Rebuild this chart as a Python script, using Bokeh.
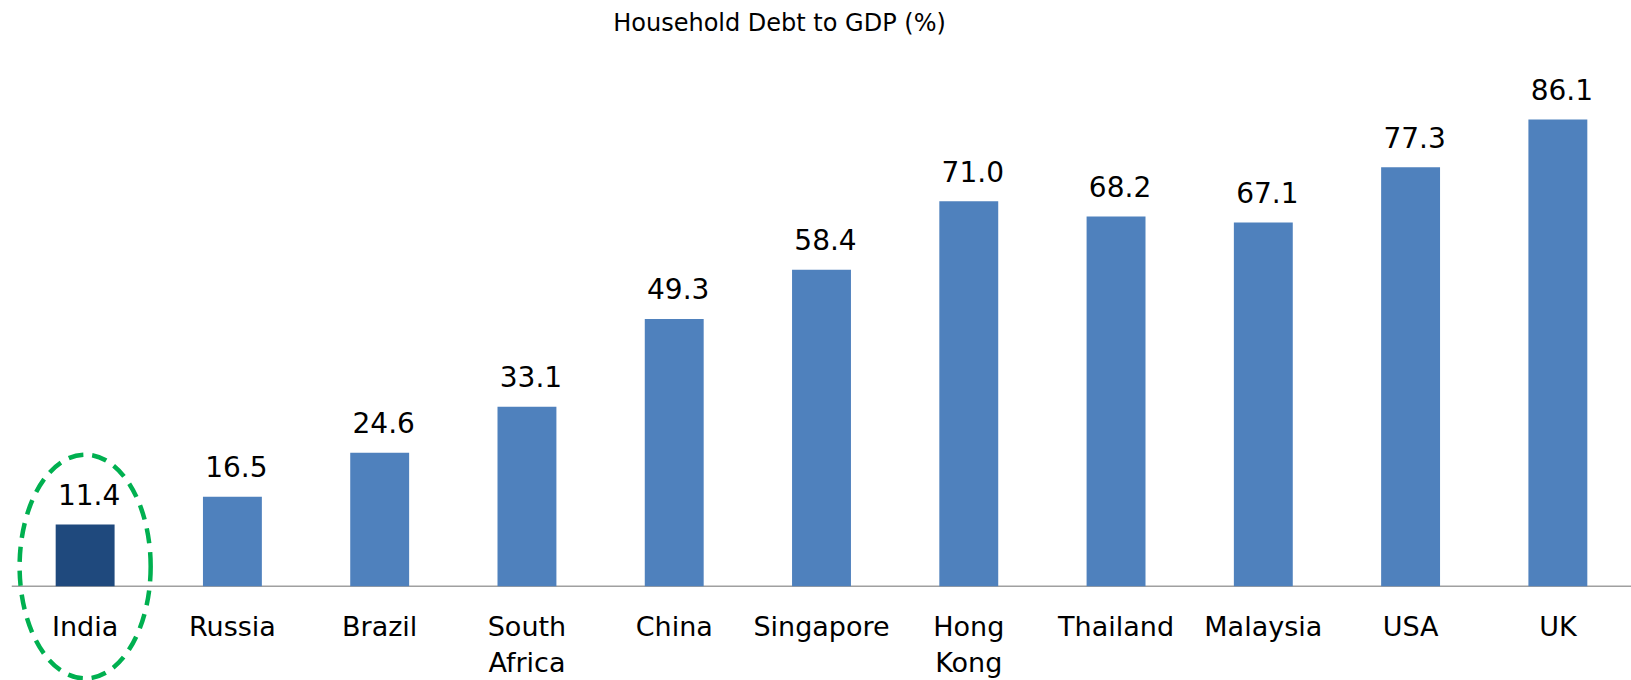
from bokeh.plotting import figure
from bokeh.models import Span, Label, ColumnDataSource, FactorRange, Range1d
from bokeh.embed import file_html
from bokeh.resources import INLINE
from bokeh.core.properties import value

# ---- data ----
countries = ["India", "Russia", "Brazil", "South Africa", "China", "Singapore",
             "Hong Kong", "Thailand", "Malaysia", "USA", "UK"]
tick_labels = ["India", "Russia", "Brazil", "South\nAfrica", "China", "Singapore",
               "Hong\nKong", "Thailand", "Malaysia", "USA", "UK"]
debt_to_gdp = [11.4, 16.5, 24.6, 33.1, 49.3, 58.4, 71.0, 68.2, 67.1, 77.3, 86.1]
highlight = "India"
title_text = "Household Debt to GDP (%)"

# ---- styles ----
BAR_COLOR = "#4F81BD"
HIGHLIGHT_COLOR = "#1F497D"
FONT = "DejaVu Sans"

value_labels = [f"{v:.1f}" for v in debt_to_gdp]
colors = [HIGHLIGHT_COLOR if c == highlight else BAR_COLOR for c in countries]

src = ColumnDataSource(dict(country=countries, debt=debt_to_gdp, color=colors,
                            vlabel=value_labels, tlabel=tick_labels,
                            zero=[0] * len(countries)))

p = figure(x_range=FactorRange(factors=countries, range_padding=0),
           y_range=Range1d(-17.4, 108.06),
           width=1631, height=680,
           output_backend="svg", toolbar_location=None,
           x_axis_location=None, y_axis_location=None,
           min_border_left=11, min_border_right=0,
           min_border_top=0, min_border_bottom=0)
p.grid.visible = False
p.outline_line_color = None
p.background_fill_color = "white"
p.border_fill_color = "white"

# baseline
base = Span(location=0, dimension="width", line_color="#A0A0A0", line_width=1.5)
base.level = "underlay"
p.add_layout(base)

p.vbar(x="country", top="debt", bottom=0, width=0.40, fill_color="color",
       line_color=None, source=src)

# value labels
p.text(x="country", y="debt", text="vlabel", source=src,
       text_align="center", text_baseline="alphabetic",
       x_offset=4, y_offset=-30,
       text_font=value(FONT), text_font_size="28px", text_color="#000000")

# category labels
p.text(x="country", y="zero", text="tlabel", source=src,
       text_align="center", text_baseline="top", y_offset=25,
       text_line_height=1.15,
       text_font=value(FONT), text_font_size="27px", text_color="#000000")

# highlight ellipse around India
p.ellipse(x=[highlight], y=[3.63], width=0.89, height=41.3,
          fill_color=None, line_color="#00B050", line_width=4.5,
          line_dash="15 9")

# title
title = Label(x=768, y=103.95, x_units="screen", y_units="data",
              text=title_text, text_align="center", text_baseline="alphabetic",
              text_font=FONT, text_font_size="24px", text_color="#000000")
p.add_layout(title)

open("out.html", "w").write(file_html(p, INLINE))
